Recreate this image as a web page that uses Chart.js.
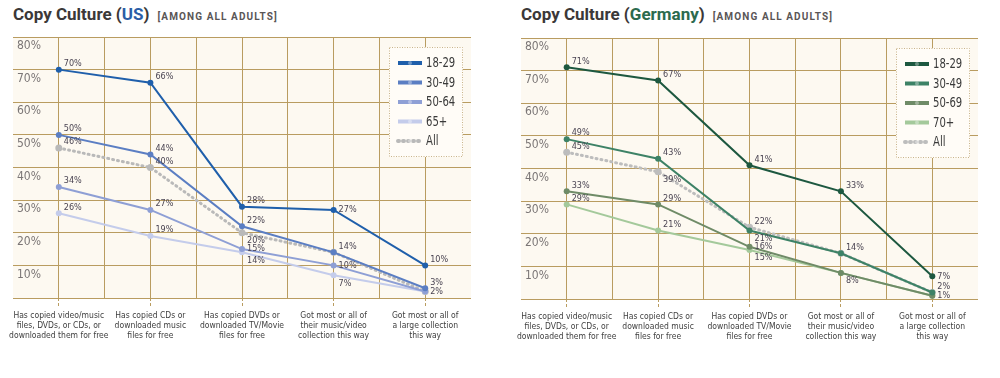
<!DOCTYPE html>
<html>
<head>
<meta charset="utf-8">
<script src="https://cdn.jsdelivr.net/npm/chart.js@4.4.1/dist/chart.umd.min.js"></script>
<style>
  body { margin: 0; background: #fff; width: 1000px; height: 378px; overflow: hidden; }
  .panel { position: absolute; top: 0; width: 500px; height: 378px; }
  .panel canvas { position: absolute; left: 0; top: 0; }
  .title { position: absolute; top: 4px; font: bold 17px Roboto, sans-serif; color: #3b3838; white-space: nowrap; }
  .title small { font: bold 10px Roboto, sans-serif; letter-spacing: 1.1px; color: #5a5656; margin-left: 8px; }
</style>
</head>
<body>
<div class="panel" style="left:0">
  <div class="title" style="left:13px">Copy Culture (<span style="color:#2b5ea6">US</span>)<small>[AMONG ALL ADULTS]</small></div>
  <canvas id="us" width="500" height="378"></canvas>
</div>
<div class="panel" style="left:500px">
  <div class="title" style="left:21px">Copy Culture (<span style="color:#2c6a4e">Germany</span>)<small>[AMONG ALL ADULTS]</small></div>
  <canvas id="de" width="500" height="378"></canvas>
</div>
<script>
// ============================= data

const categories = [
    ['Has copied video/music', 'files, DVDs, or CDs, or', 'downloaded them for free'],
    ['Has copied CDs or', 'downloaded music', 'files for free'],
    ['Has copied DVDs or', 'downloaded TV/Movie', 'files for free'],
    ['Got most or all of', 'their music/video', 'collection this way'],
    ['Got most or all of', 'a large collection', 'this way']
]
const yTicks = [0, 10, 20, 30, 40, 50, 60, 70, 80]

const usGroups = ['18-29', '30-49', '50-64', '65+', 'All']
const us18 = [70, 66, 28, 27, 10]
const us30 = [50, 44, 22, 14, 3]
const us50 = [34, 27, 15, 10, 2]
const us65 = [26, 19, 14, 7, 2]
const usAll = [46, 40, 20, 14, 2]

const deGroups = ['18-29', '30-49', '50-69', '70+', 'All']
const de18 = [71, 67, 41, 33, 7]
const de30 = [49, 43, 21, 14, 2]
const de50 = [33, 29, 16, 8, 1]
const de70 = [29, 21, 15, 8, 1]
const deAll = [45, 39, 22, 14, 2]

// which value labels are shown: a = above, b = below, m = level, null = none
const usLabelAt = [
    ['a', 'a', 'a', 'm', 'a'],
    ['a', 'a', 'a', 'a', 'a'],
    ['a', 'a', 'm', 'm', null],
    ['a', 'a', 'b', 'b', 'm'],
    ['a', 'a', 'b', null, null]
]
const deLabelAt = [
    ['a', 'a', 'a', 'a', 'm'],
    ['a', 'a', 'b', 'a', 'a'],
    ['a', 'a', 'm', 'b', 'm'],
    ['a', 'a', 'b', null, null],
    ['a', 'b', 'a', null, null]
]

const usColors = ['#1f5fab', '#5b7ec3', '#8e9fd5', '#c4cceb', '#b9b9b9']
const deColors = ['#1d5840', '#3d8266', '#6f8b67', '#a4c99b', '#bdbdbd']

const GRID = '#b99c60'
const NARROW = '"DejaVu Sans Condensed", Roboto, sans-serif'

// ============================= plugins

const plotBg = {
    id: 'plotBg',
    beforeDraw: (chart) => {
        const { ctx, chartArea: a } = chart
        ctx.save()
        ctx.fillStyle = '#fdf9f1'
        ctx.fillRect(a.left, a.top, a.right - a.left, a.bottom - a.top)
        ctx.restore()
    }
}

const valueLabels = {
    id: 'valueLabels',
    afterDatasetsDraw: (chart) => {
        const ctx = chart.ctx
        const shift = { a: -6, b: 8, m: 0 }
        ctx.save()
        ctx.font = '9px ' + NARROW
        ctx.fillStyle = '#4a4452'
        ctx.textBaseline = 'middle'
        chart.data.datasets.forEach((ds, i) => {
            chart.getDatasetMeta(i).data.forEach((pt, j) => {
                const at = ds.labelAt[j]
                if (!at) return
                ctx.fillText(ds.data[j].y + '%', pt.x + 5, pt.y + shift[at])
            })
        })
        ctx.restore()
    }
}

const boxLegend = {
    id: 'boxLegend',
    afterDraw: (chart) => {
        const { ctx, chartArea: a } = chart
        const w = 74, h = 110
        const x = a.right - 8 - w, y = a.top + 10
        ctx.save()
        ctx.fillStyle = '#fffcf7'
        ctx.fillRect(x, y, w, h)
        ctx.strokeStyle = '#c9b48a'
        ctx.lineWidth = 1
        ctx.setLineDash([1, 1.5])
        ctx.strokeRect(x + 0.5, y + 0.5, w - 1, h - 1)
        ctx.font = '14px ' + NARROW
        ctx.textBaseline = 'middle'
        chart.data.datasets.forEach((ds, i) => {
            const ly = y + 16 + i * 19.5
            ctx.strokeStyle = ds.borderColor
            ctx.lineWidth = 4
            ctx.lineCap = ds.borderDash ? 'round' : 'butt'
            ctx.setLineDash(ds.borderDash ? [1, 4] : [])
            ctx.beginPath()
            ctx.moveTo(x + 9, ly)
            ctx.lineTo(x + 33, ly)
            ctx.stroke()
            ctx.setLineDash([])
            ctx.fillStyle = 'rgba(255,255,255,0.35)'
            ctx.beginPath()
            ctx.arc(x + 21, ly, 2, 0, Math.PI * 2)
            ctx.fill()
            // the print legend uses a narrow face, squeeze the text a bit
            ctx.save()
            ctx.translate(x + 37, ly + 0.5)
            ctx.scale(0.8, 1)
            ctx.fillStyle = '#3a3a3a'
            ctx.fillText(ds.label, 0, 0)
            ctx.restore()
        })
        ctx.restore()
    }
}

// ============================= chart builder

const makeDataset = (label, values, color, labelAt) => {
    const dotted = label === 'All'
    return {
        label: label,
        data: values.map((v, i) => ({ x: 2 * i + 1, y: v })),
        borderColor: color,
        backgroundColor: color,
        borderWidth: dotted ? 3 : 2,
        borderDash: dotted ? [1, 4] : undefined,
        borderCapStyle: dotted ? 'round' : 'butt',
        pointRadius: dotted ? 3.5 : 3,
        pointBorderWidth: 0,
        tension: 0,
        labelAt: labelAt
    }
}

const createCopyChart = (id, groups, series, colors, labelAt, pad) => {
    const datasets = groups.map((g, i) => makeDataset(g, series[i], colors[i], labelAt[i]))

    return new Chart(document.getElementById(id), {
        type: 'line',
        data: { datasets: datasets },
        plugins: [plotBg, valueLabels, boxLegend],
        options: {
            responsive: false,
            animation: false,
            layout: { padding: { left: pad.left, right: pad.right, top: pad.top, bottom: 0 } },
            plugins: { legend: { display: false }, tooltip: { enabled: false } },
            scales: {
                x: {
                    type: 'linear',
                    min: 0,
                    max: 10,
                    afterFit: (s) => { s.height = pad.axis },
                    border: { display: false },
                    grid: {
                        color: (c) => (c.tick.value === 0 || c.tick.value === 10) ? 'transparent' : GRID,
                        tickColor: (c) => c.tick.value % 2 === 1 ? GRID : 'transparent',
                        borderDash: [3, 2],
                        tickBorderDash: [3, 2],
                        tickLength: 8,
                        lineWidth: 1
                    },
                    ticks: {
                        stepSize: 1,
                        autoSkip: false,
                        maxRotation: 0,
                        padding: 5,
                        color: '#3e3e3e',
                        font: { family: NARROW, size: 8.5, lineHeight: 1.18 },
                        callback: (v) => v % 2 === 1 ? categories[(v - 1) / 2] : ''
                    }
                },
                y: {
                    min: yTicks[0],
                    max: yTicks[yTicks.length - 1],
                    afterFit: (s) => { s.width = 0 },
                    afterBuildTicks: (s) => { s.ticks = yTicks.map(v => ({ value: v })) },
                    border: { display: false },
                    grid: {
                        color: GRID,
                        borderDash: [3, 2],
                        drawTicks: false,
                        lineWidth: 1
                    },
                    ticks: {
                        mirror: true,
                        padding: 4,
                        labelOffset: 9,
                        color: '#7b7676',
                        font: { family: NARROW, size: 12 },
                        callback: (v) => v === 0 ? '' : v + '%'
                    }
                }
            }
        }
    })
}

createCopyChart('us', usGroups, [us18, us30, us50, us65, usAll], usColors, usLabelAt,
    { left: 13, right: 29, top: 37, axis: 80 })
createCopyChart('de', deGroups, [de18, de30, de50, de70, deAll], deColors, deLabelAt,
    { left: 21, right: 22, top: 38, axis: 79 })
</script>
</body>
</html>
